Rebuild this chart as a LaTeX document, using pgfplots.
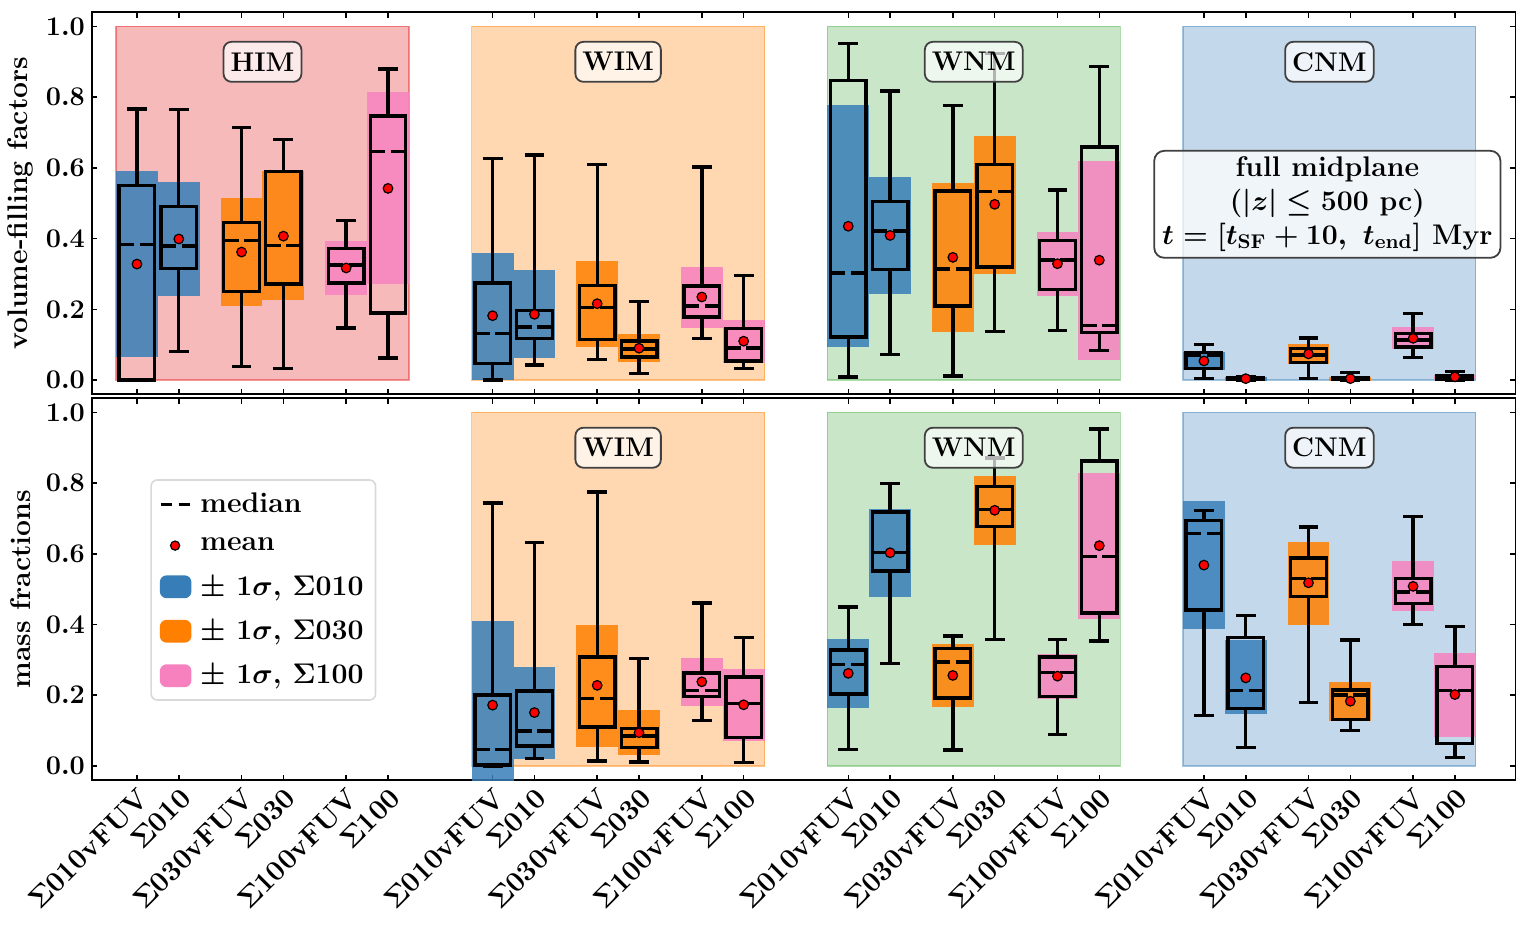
\RequirePackage{fix-cm}
\documentclass[border=0pt]{standalone}
\usepackage{pgfplots}
\pgfplotsset{compat=1.18}

\definecolor{cb}{RGB}{55,126,184}
\definecolor{co}{RGB}{255,127,0}
\definecolor{cp}{RGB}{247,129,191}
\definecolor{cr}{RGB}{228,26,28}
\definecolor{cg}{RGB}{77,175,74}

\newcommand\ff{\fontsize{13.5}{16.5}\selectfont\bfseries\boldmath}
\newcommand\fl{\fontsize{14.2}{17}\selectfont\bfseries\boldmath}

% background region of one phase (x of left edge, colour)
\newcommand\region[2]{%
  \pgfmathsetmacro\xa{#1}\pgfmathsetmacro\xb{#1+2.8}%
  \addplot[fill=#2, fill opacity=0.3, draw=#2, draw opacity=0.45, line width=0.6pt]
    coordinates {(\xa,0) (\xb,0) (\xb,1) (\xa,1)} -- cycle;}

% +-1 sigma band: x, colour, low, high
\newcommand\band[4]{%
  \pgfmathsetmacro\xa{#1-0.2}\pgfmathsetmacro\xb{#1+0.2}%
  \addplot[fill=#2, fill opacity=0.85, draw=none]
    coordinates {(\xa,#3) (\xb,#3) (\xb,#4) (\xa,#4)} -- cycle;}

% box: x, lower whisker, q1, median, q3, upper whisker, mean
\newcommand\bx[7]{%
  \pgfmathsetmacro\bl{#1-0.17}\pgfmathsetmacro\br{#1+0.17}%
  \pgfmathsetmacro\wl{#1-0.095}\pgfmathsetmacro\wr{#1+0.095}%
  \addplot[bxl] coordinates {(#1,#2) (#1,#3)};
  \addplot[bxl] coordinates {(#1,#5) (#1,#6)};
  \addplot[bxl] coordinates {(\wl,#2) (\wr,#2)};
  \addplot[bxl] coordinates {(\wl,#6) (\wr,#6)};
  \addplot[bxl] coordinates {(\bl,#3) (\br,#3) (\br,#5) (\bl,#5)} -- cycle;
  \addplot[bxl, dash pattern=on 7.5pt off 2.8pt] coordinates {(\bl,#4) (\br,#4)};
  \addplot[only marks, mark=*, mark size=2.4pt,
    mark options={fill=red, draw=black, line width=0.6pt, solid}] coordinates {(#1,#7)};}

\tikzset{lab/.style={draw=black!75, line width=0.9pt, rounded corners=4pt, fill=white,
    fill opacity=0.7, text opacity=1, font=\ff, inner xsep=3.5pt, minimum height=20pt}}

\pgfplotsset{
  bxl/.style={black, line width=1.7pt, no marks},
  myax/.style={
    scale only axis, width=712pt, height=191pt,
    xmin=-0.43, xmax=13.18, ymin=-0.04, ymax=1.04,
    xtick={0,0.4,1,1.4,2,2.4,3.4,3.8,4.4,4.8,5.4,5.8,6.8,7.2,7.8,8.2,8.8,9.2,10.2,10.6,11.2,11.6,12.2,12.6},
    ytick={0,0.2,0.4,0.6,0.8,1.0},
    tick align=inside, major tick length=2.7pt,
    tick style={black, line width=0.75pt},
    axis line style={line width=0.85pt},
    tick label style={font=\ff},
    label style={font=\fl},
    yticklabel style={/pgf/number format/fixed, /pgf/number format/fixed zerofill,
      /pgf/number format/precision=1},
    ylabel style={at={(axis description cs:-0.05,0.5)}, anchor=center},
  }
}

\begin{document}
\begin{tikzpicture}
\begin{axis}[myax, name=top, at={(0pt,0pt)}, anchor=north west,
  xticklabels={}, ylabel={volume-filling factors}]
\region{-0.2}{cr}\region{3.2}{co}\region{6.6}{cg}\region{10.0}{cb}
% HIM
\band{0}{cb}{0.064}{0.590}\bx{0}{0.0}{0.0}{0.384}{0.551}{0.767}{0.328}
\band{0.4}{cb}{0.237}{0.560}\bx{0.4}{0.081}{0.315}{0.379}{0.490}{0.765}{0.399}
\band{1}{co}{0.210}{0.514}\bx{1}{0.038}{0.251}{0.395}{0.446}{0.715}{0.362}
\band{1.4}{co}{0.227}{0.590}\bx{1.4}{0.033}{0.272}{0.381}{0.590}{0.680}{0.407}
\band{2}{cp}{0.241}{0.394}\bx{2}{0.147}{0.275}{0.325}{0.372}{0.452}{0.317}
\band{2.4}{cp}{0.271}{0.814}\bx{2.4}{0.062}{0.190}{0.647}{0.747}{0.880}{0.542}
% WIM
\band{3.4}{cb}{0.0}{0.360}\bx{3.4}{0.0}{0.047}{0.132}{0.274}{0.627}{0.182}
\band{3.8}{cb}{0.061}{0.310}\bx{3.8}{0.043}{0.118}{0.150}{0.196}{0.637}{0.186}
\band{4.4}{co}{0.094}{0.337}\bx{4.4}{0.059}{0.115}{0.205}{0.267}{0.610}{0.216}
\band{4.8}{co}{0.050}{0.129}\bx{4.8}{0.018}{0.065}{0.088}{0.111}{0.223}{0.090}
\band{5.4}{cp}{0.147}{0.320}\bx{5.4}{0.117}{0.178}{0.209}{0.266}{0.602}{0.235}
\band{5.8}{cp}{0.047}{0.169}\bx{5.8}{0.032}{0.054}{0.091}{0.146}{0.296}{0.110}
% WNM
\band{6.8}{cb}{0.094}{0.777}\bx{6.8}{0.009}{0.122}{0.303}{0.847}{0.951}{0.435}
\band{7.2}{cb}{0.243}{0.574}\bx{7.2}{0.073}{0.313}{0.422}{0.505}{0.818}{0.409}
\band{7.8}{co}{0.137}{0.557}\bx{7.8}{0.011}{0.209}{0.314}{0.535}{0.776}{0.347}
\band{8.2}{co}{0.301}{0.691}\bx{8.2}{0.138}{0.320}{0.534}{0.610}{0.924}{0.497}
\band{8.8}{cp}{0.239}{0.419}\bx{8.8}{0.140}{0.256}{0.339}{0.395}{0.537}{0.329}
\band{9.2}{cp}{0.056}{0.619}\bx{9.2}{0.084}{0.135}{0.155}{0.659}{0.886}{0.339}
% CNM
\band{10.2}{cb}{0.028}{0.080}\bx{10.2}{0.005}{0.033}{0.069}{0.078}{0.101}{0.054}
\band{10.6}{cb}{-0.003}{0.009}\bx{10.6}{0.0}{0.001}{0.004}{0.007}{0.010}{0.004}
\band{11.2}{co}{0.045}{0.102}\bx{11.2}{0.005}{0.049}{0.071}{0.089}{0.119}{0.074}
\band{11.6}{co}{-0.002}{0.010}\bx{11.6}{0.0}{0.001}{0.004}{0.007}{0.021}{0.004}
\band{12.2}{cp}{0.087}{0.149}\bx{12.2}{0.063}{0.094}{0.113}{0.132}{0.188}{0.118}
\band{12.6}{cp}{0.002}{0.014}\bx{12.6}{0.0}{0.003}{0.008}{0.013}{0.024}{0.009}
\node[lab] at (axis cs:1.2,0.9) {HIM};
\node[lab] at (axis cs:4.6,0.9) {WIM};
\node[lab] at (axis cs:8.0,0.9) {WNM};
\node[lab] at (axis cs:11.4,0.9) {CNM};
\node[draw=black!75, line width=0.9pt, rounded corners=5pt, fill=white, fill opacity=0.75,
  text opacity=1, align=center, font=\fl, inner xsep=4pt, inner ysep=3pt] at (axis cs:11.38,0.497)
  {full midplane\\($|z| \leq 500$ pc)\\$t = [t_{\mathrm{SF}} + 10,\ t_{\mathrm{end}}]$ Myr};
\end{axis}

\begin{axis}[myax, at={(top.south west)}, anchor=north west, yshift=-2pt,
  ylabel={mass fractions},
  xticklabels={$\Sigma$010vFUV,$\Sigma$010,$\Sigma$030vFUV,$\Sigma$030,$\Sigma$100vFUV,$\Sigma$100,
    $\Sigma$010vFUV,$\Sigma$010,$\Sigma$030vFUV,$\Sigma$030,$\Sigma$100vFUV,$\Sigma$100,
    $\Sigma$010vFUV,$\Sigma$010,$\Sigma$030vFUV,$\Sigma$030,$\Sigma$100vFUV,$\Sigma$100,
    $\Sigma$010vFUV,$\Sigma$010,$\Sigma$030vFUV,$\Sigma$030,$\Sigma$100vFUV,$\Sigma$100},
  xticklabel style={rotate=45, anchor=north east, inner sep=2pt, font=\fl},
  legend style={at={(0.041,0.788)}, anchor=north west, draw=black!15, line width=0.8pt,
    rounded corners=3pt, fill=white, font=\fl, inner xsep=4pt, inner ysep=4.5pt,
    row sep=7pt, column sep=2.5pt, cells={anchor=west}},
  legend cell align=left]
\addlegendimage{legend image code/.code={\draw[black, line width=1.5pt,
  dash pattern=on 5.5pt off 3.5pt] (0pt,0pt) -- (14.5pt,0pt);}}
\addlegendentry{median}
\addlegendimage{legend image code/.code={\filldraw[fill=red, draw=black, line width=0.6pt]
  (7.25pt,0pt) circle (2.3pt);}}
\addlegendentry{mean}
\addlegendimage{legend image code/.code={\fill[cb] (0pt,-5.3pt) rectangle (15pt,5.3pt);}}
\addlegendentry{$\pm$ $1\sigma$, $\Sigma$010}
\addlegendimage{legend image code/.code={\fill[co] (0pt,-5.3pt) rectangle (15pt,5.3pt);}}
\addlegendentry{$\pm$ $1\sigma$, $\Sigma$030}
\addlegendimage{legend image code/.code={\fill[cp] (0pt,-5.3pt) rectangle (15pt,5.3pt);}}
\addlegendentry{$\pm$ $1\sigma$, $\Sigma$100}
\region{3.2}{co}\region{6.6}{cg}\region{10.0}{cb}
% WIM
\band{3.4}{cb}{-0.07}{0.410}\bx{3.4}{0.0}{0.003}{0.047}{0.201}{0.744}{0.172}
\band{3.8}{cb}{0.019}{0.281}\bx{3.8}{0.021}{0.056}{0.099}{0.212}{0.632}{0.151}
\band{4.4}{co}{0.054}{0.399}\bx{4.4}{0.014}{0.110}{0.190}{0.308}{0.775}{0.228}
\band{4.8}{co}{0.030}{0.158}\bx{4.8}{0.011}{0.052}{0.085}{0.106}{0.304}{0.094}
\band{5.4}{cp}{0.170}{0.304}\bx{5.4}{0.129}{0.197}{0.214}{0.263}{0.461}{0.238}
\band{5.8}{cp}{0.071}{0.273}\bx{5.8}{0.009}{0.080}{0.176}{0.252}{0.363}{0.173}
% WNM
\band{6.8}{cb}{0.165}{0.358}\bx{6.8}{0.047}{0.204}{0.287}{0.328}{0.450}{0.262}
\band{7.2}{cb}{0.477}{0.727}\bx{7.2}{0.289}{0.551}{0.603}{0.718}{0.798}{0.603}
\band{7.8}{co}{0.167}{0.346}\bx{7.8}{0.045}{0.192}{0.294}{0.333}{0.367}{0.256}
\band{8.2}{co}{0.626}{0.819}\bx{8.2}{0.358}{0.678}{0.725}{0.791}{0.871}{0.723}
\band{8.8}{cp}{0.189}{0.317}\bx{8.8}{0.089}{0.196}{0.264}{0.308}{0.358}{0.254}
\band{9.2}{cp}{0.417}{0.829}\bx{9.2}{0.353}{0.433}{0.593}{0.862}{0.953}{0.623}
% CNM
\band{10.2}{cb}{0.388}{0.749}\bx{10.2}{0.143}{0.441}{0.657}{0.695}{0.723}{0.568}
\band{10.6}{cb}{0.146}{0.356}\bx{10.6}{0.052}{0.163}{0.214}{0.363}{0.425}{0.249}
\band{11.2}{co}{0.400}{0.633}\bx{11.2}{0.179}{0.480}{0.531}{0.588}{0.676}{0.518}
\band{11.6}{co}{0.127}{0.237}\bx{11.6}{0.101}{0.132}{0.201}{0.215}{0.356}{0.183}
\band{12.2}{cp}{0.438}{0.579}\bx{12.2}{0.400}{0.459}{0.492}{0.531}{0.706}{0.508}
\band{12.6}{cp}{0.082}{0.320}\bx{12.6}{0.024}{0.064}{0.214}{0.282}{0.395}{0.202}
\node[lab] at (axis cs:4.6,0.9) {WIM};
\node[lab] at (axis cs:8.0,0.9) {WNM};
\node[lab] at (axis cs:11.4,0.9) {CNM};
\end{axis}
\pgfresetboundingbox
\path[use as bounding box] (-46pt,6.15pt) rectangle (718.2pt,-457.9pt);
\end{tikzpicture}
\end{document}
